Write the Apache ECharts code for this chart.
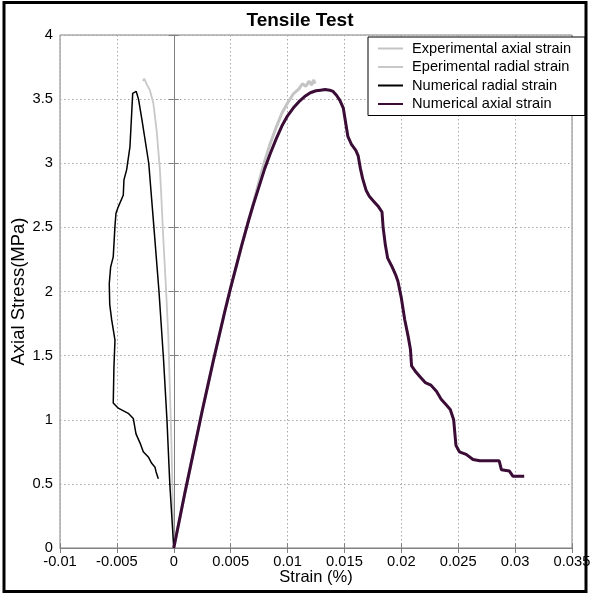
<!DOCTYPE html>
<html>
<head>
<meta charset="utf-8">
<script src="https://cdn.jsdelivr.net/npm/echarts@6/dist/echarts.min.js"></script>
<style>
  html, body { margin: 0; padding: 0; background: #fff; }
  #chart { width: 590px; height: 595px; }
</style>
</head>
<body>
<div id="chart"></div>
<script>
// Tensile test: axial stress (MPa) against strain (%)
const chartTitle = 'Tensile Test';
const xAxisName = 'Strain (%)';
const yAxisName = 'Axial Stress(MPa)';

const seriesNames = [
  'Experimental axial strain',
  'Eperimental radial strain',
  'Numerical radial strain',
  'Numerical axial strain'
];

const xTicks = { min: -0.01, max: 0.035, step: 0.005 };
const yTicks = { min: 0, max: 4, step: 0.5 };

// [strain, stress] pairs
const expAxial = [
  [0, 0], [0.0005, 0.22], [0.001, 0.44], [0.0015, 0.65], [0.002, 0.86], [0.0025, 1.07],
  [0.003, 1.27], [0.0035, 1.47], [0.004, 1.66], [0.0045, 1.85], [0.005, 2.03], [0.0055, 2.2],
  [0.006, 2.37], [0.0065, 2.53], [0.007, 2.69], [0.0075, 2.86], [0.008, 3.02], [0.0085, 3.16],
  [0.009, 3.28], [0.0095, 3.39], [0.01, 3.47], [0.0105, 3.54], [0.011, 3.58], [0.0113, 3.62],
  [0.0116, 3.6], [0.0119, 3.64], [0.0121, 3.61], [0.0123, 3.65], [0.0124, 3.62]
];

const expRadial = [
  [0, 0], [-0.0001, 0.4], [-0.0002, 0.8], [-0.00033, 1.2], [-0.00048, 1.65], [-0.0007, 2.05],
  [-0.00093, 2.43], [-0.0011, 2.75], [-0.00122, 2.95], [-0.0015, 3.25], [-0.0018, 3.47],
  [-0.0021, 3.57], [-0.0024, 3.62], [-0.0026, 3.66], [-0.0027, 3.64]
];

const numRadial = [
  [0, 0], [-0.00035, 0.5], [-0.0006, 1.0], [-0.0009, 1.47], [-0.0013, 2.0], [-0.0018, 2.56],
  [-0.0022, 3.0], [-0.0028, 3.34], [-0.0031, 3.5], [-0.0033, 3.56], [-0.0034, 3.57],
  [-0.00361, 3.545], [-0.0037, 3.39], [-0.00385, 3.13], [-0.00414, 2.95], [-0.00438, 2.87],
  [-0.00444, 2.75], [-0.00488, 2.66], [-0.00508, 2.61], [-0.00517, 2.51], [-0.00532, 2.27],
  [-0.00555, 2.19], [-0.00567, 2.06], [-0.00563, 1.9], [-0.00546, 1.78], [-0.00517, 1.62],
  [-0.00526, 1.41], [-0.00532, 1.13], [-0.00488, 1.09], [-0.004, 1.05], [-0.00356, 1.01],
  [-0.00332, 0.89], [-0.00297, 0.82], [-0.00268, 0.75], [-0.00224, 0.71], [-0.00194, 0.66],
  [-0.00165, 0.63], [-0.00156, 0.595], [-0.00136, 0.54]
];

const numAxial = [
  [0, 0], [0.0005, 0.22], [0.001, 0.44], [0.0015, 0.65], [0.002, 0.86], [0.0025, 1.07],
  [0.003, 1.27], [0.0035, 1.47], [0.004, 1.66], [0.0045, 1.85], [0.005, 2.03], [0.0055, 2.2],
  [0.006, 2.37], [0.0065, 2.53], [0.007, 2.68], [0.0075, 2.82], [0.008, 2.96], [0.0085, 3.08],
  [0.009, 3.19], [0.0095, 3.29], [0.01, 3.37], [0.0105, 3.43], [0.011, 3.48], [0.0115, 3.52],
  [0.012, 3.55], [0.0125, 3.565], [0.0129, 3.57], [0.0133, 3.575], [0.0137, 3.57], [0.014, 3.56],
  [0.0143, 3.53], [0.0146, 3.49], [0.0149, 3.43], [0.0151, 3.32], [0.0153, 3.21], [0.0156, 3.15],
  [0.016, 3.1], [0.0162, 3.06], [0.0164, 2.96], [0.0166, 2.88], [0.0169, 2.79], [0.0172, 2.74],
  [0.0176, 2.7], [0.018, 2.66], [0.0183, 2.62], [0.0184, 2.5], [0.0186, 2.36], [0.0188, 2.26],
  [0.0192, 2.19], [0.0195, 2.13], [0.0197, 2.08], [0.02, 1.95], [0.0203, 1.78], [0.0206, 1.65],
  [0.0208, 1.55], [0.0209, 1.42], [0.0213, 1.37], [0.0217, 1.33], [0.0221, 1.29], [0.0226, 1.27],
  [0.0231, 1.22], [0.0235, 1.16], [0.0239, 1.12], [0.0243, 1.08], [0.0246, 1.0], [0.0247, 0.9],
  [0.0248, 0.8], [0.0251, 0.75], [0.0257, 0.73], [0.0263, 0.69], [0.0269, 0.68], [0.0286, 0.68],
  [0.0288, 0.61], [0.0295, 0.6], [0.0298, 0.56], [0.0308, 0.56]
];

const FONT = '"Liberation Sans", Arial, sans-serif';
const gridDots = { color: '#a8a8a8', width: 1, type: [1.5, 2.5] };
const axisGray = '#808080';
const insideTick = { show: true, inside: true, length: 5, lineStyle: { color: axisGray } };

function tickText(v) {
  return String(+v.toFixed(4));
}

const chart = echarts.init(document.getElementById('chart'), null, { renderer: 'canvas' });

chart.setOption({
  animation: false,
  backgroundColor: '#fff',
  legend: {
    data: seriesNames,
    orient: 'vertical',
    left: 368,
    top: 37,
    padding: [4, 14, 4, 9],
    itemWidth: 25,
    itemHeight: 14,
    itemGap: 3.5,
    selectedMode: false,
    backgroundColor: '#fff',
    borderColor: '#000',
    borderWidth: 1,
    borderRadius: 0,
    itemStyle: { opacity: 0 },
    formatter: n => ' ' + n,
    textStyle: { fontFamily: FONT, fontSize: 14.6, color: '#000' }
  },
  grid: {
    left: 60, right: 18, top: 35, bottom: 47,
    outerBoundsMode: 'none',
    containLabel: false,
    show: true, borderColor: axisGray, borderWidth: 1
  },
  xAxis: [{
    type: 'value',
    min: xTicks.min, max: xTicks.max, interval: xTicks.step,
    name: xAxisName,
    nameLocation: 'middle',
    nameGap: 21,
    nameMoveOverlap: false,
    nameTextStyle: { fontFamily: FONT, fontSize: 16.5, color: '#000' },
    axisLine: { show: true, lineStyle: { color: axisGray } },
    axisTick: insideTick,
    axisLabel: { formatter: tickText, margin: 6, fontFamily: FONT, fontSize: 14.7, color: '#000' },
    splitLine: { show: true, lineStyle: gridDots }
  }, {
    type: 'value', position: 'top',
    min: xTicks.min, max: xTicks.max, interval: xTicks.step,
    axisLine: { show: false },
    axisTick: insideTick,
    axisLabel: { show: false },
    splitLine: { show: false }
  }],
  yAxis: [{
    type: 'value',
    min: yTicks.min, max: yTicks.max, interval: yTicks.step,
    name: yAxisName,
    nameLocation: 'middle',
    nameGap: 32,
    nameMoveOverlap: false,
    nameTextStyle: { fontFamily: FONT, fontSize: 18.5, color: '#000' },
    axisLine: { show: true, lineStyle: { color: axisGray } },
    axisTick: insideTick,
    axisLabel: { formatter: tickText, margin: 7, fontFamily: FONT, fontSize: 14.7, color: '#000' },
    splitLine: { show: true, lineStyle: gridDots }
  }, {
    type: 'value', position: 'right',
    min: yTicks.min, max: yTicks.max, interval: yTicks.step,
    axisLine: { show: false },
    axisTick: insideTick,
    axisLabel: { show: false },
    splitLine: { show: false }
  }],
  series: [
    {
      name: seriesNames[0], type: 'line', data: expAxial,
      symbol: 'none', z: 2,
      itemStyle: { color: '#c4c4c4' },
      lineStyle: { color: '#c4c4c4', width: 3 }
    },
    {
      name: seriesNames[1], type: 'line', data: expRadial,
      symbol: 'none', z: 3,
      itemStyle: { color: '#c8c8c8' },
      lineStyle: { color: '#c8c8c8', width: 1.8 }
    },
    {
      name: seriesNames[2], type: 'line', data: numRadial,
      symbol: 'none', z: 4,
      itemStyle: { color: '#000' },
      lineStyle: { color: '#000', width: 1.5 }
    },
    {
      name: seriesNames[3], type: 'line', data: numAxial,
      symbol: 'none', z: 5,
      itemStyle: { color: '#3a0c36' },
      lineStyle: { color: '#3a0c36', width: 3 }
    }
  ],
  graphic: [
    {
      type: 'text',
      silent: true,
      z: 100,
      style: {
        text: chartTitle,
        x: 300, y: 21,
        align: 'center', verticalAlign: 'middle',
        fontFamily: FONT, fontSize: 19, fontWeight: 'bold', fill: '#000'
      }
    },
    {
      type: 'rect',
      silent: true,
      z: 100,
      shape: { x: 4, y: 2.5, width: 582, height: 589 },
      style: { fill: 'none', stroke: '#000', lineWidth: 3 }
    }
  ]
});
</script>
</body>
</html>
